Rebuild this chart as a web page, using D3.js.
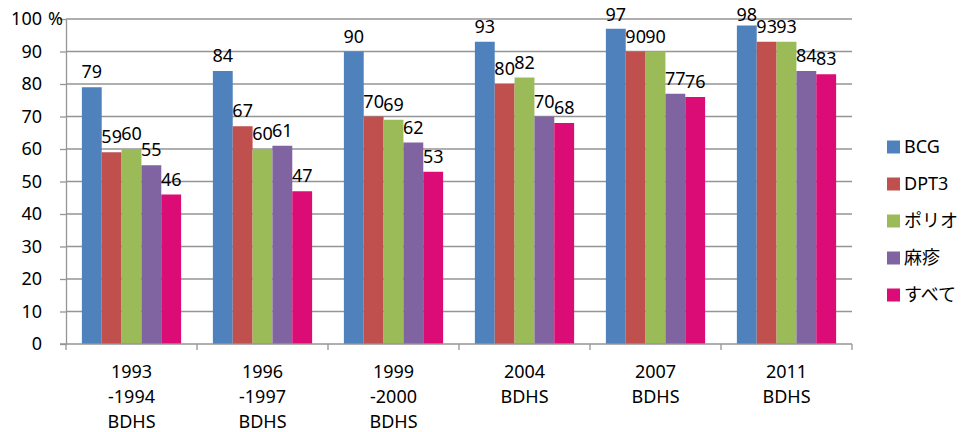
<!DOCTYPE html>
<html>
<head>
<meta charset="utf-8">
<script src="https://cdn.jsdelivr.net/npm/d3@7"></script>
<style>
  html, body { margin: 0; padding: 0; background: #fff; }
  svg text { font-family: "Noto Sans", "Noto Sans CJK JP", sans-serif; fill: #000; }
</style>
</head>
<body>
<svg id="chart" width="963" height="432"></svg>
<script>
// Survey rounds (x-axis categories), split into label lines
const categories = ["1993-1994 BDHS", "1996-1997 BDHS", "1999-2000 BDHS", "2004 BDHS", "2007 BDHS", "2011 BDHS"];
const categoryLines = [
  ["1993", "-1994", "BDHS"],
  ["1996", "-1997", "BDHS"],
  ["1999", "-2000", "BDHS"],
  ["2004", "BDHS"],
  ["2007", "BDHS"],
  ["2011", "BDHS"]
];

// Vaccination coverage (%) by vaccine
const seriesNames = ["BCG", "DPT3", "ポリオ", "麻疹", "すべて"];
const bcg     = [79, 84, 90, 93, 97, 98];
const dpt3    = [59, 67, 70, 80, 90, 93];
const polio   = [60, 60, 69, 82, 90, 93];
const measles = [55, 61, 62, 70, 77, 84];
const allVax  = [46, 47, 53, 68, 76, 83];
const seriesValues = [bcg, dpt3, polio, measles, allVax];
const seriesColors = ["#4f81bd", "#c0504d", "#9bbb59", "#8064a2", "#dc0c76"];

const yTicks = [0, 10, 20, 30, 40, 50, 60, 70, 80, 90, 100];

const svg = d3.select("#chart");
const plot = { left: 66, right: 852, top: 19, bottom: 344 };

const x0 = d3.scaleBand().domain(categories).range([plot.left, plot.right]).paddingInner(0).paddingOuter(0);
const x1 = d3.scaleBand().domain(seriesNames).range([0, x0.bandwidth()]).paddingInner(0).paddingOuter(0.8);
const y = d3.scaleLinear().domain([0, 100]).range([plot.bottom, plot.top]);

const gridColor = "#959595";

// Horizontal gridlines
svg.append("g")
  .selectAll("line")
  .data(yTicks.filter(t => t > 0))
  .join("line")
  .attr("x1", plot.left).attr("x2", plot.right)
  .attr("y1", d => y(d)).attr("y2", d => y(d))
  .attr("stroke", gridColor).attr("stroke-width", 1.3);

// Y axis
const yAxis = svg.append("g")
  .attr("transform", `translate(${plot.left},0)`)
  .call(d3.axisLeft(y).tickValues(yTicks).tickSize(6).tickSizeOuter(0).tickPadding(18));
yAxis.select(".domain").attr("stroke", gridColor).attr("stroke-width", 1.3);
yAxis.selectAll(".tick line").attr("stroke", gridColor).attr("stroke-width", 1.3);
yAxis.selectAll(".tick text")
  .style("font-family", "'Noto Sans', sans-serif")
  .style("font-size", "18px").attr("fill", "#000");

// Unit next to the top tick
svg.append("text")
  .attr("x", 48).attr("y", y(100)).attr("dy", "0.32em")
  .style("font-size", "18px").text("%");

// Bars
const groups = svg.append("g")
  .selectAll("g")
  .data(categories)
  .join("g")
  .attr("transform", d => `translate(${x0(d)},0)`);

groups.selectAll("rect")
  .data((c, ci) => seriesNames.map((s, si) => ({ s, v: seriesValues[si][ci], color: seriesColors[si] })))
  .join("rect")
  .attr("x", d => x1(d.s))
  .attr("y", d => y(d.v))
  .attr("width", x1.bandwidth())
  .attr("height", d => y(0) - y(d.v))
  .attr("fill", d => d.color);

// Value labels above bars (kept inside the top edge of the canvas)
groups.selectAll("text.value")
  .data((c, ci) => seriesNames.map((s, si) => ({ s, v: seriesValues[si][ci] })))
  .join("text")
  .attr("class", "value")
  .attr("x", d => x1(d.s) + x1.bandwidth() / 2)
  .attr("y", d => Math.max(y(d.v) - 9, 20.5))
  .attr("text-anchor", "middle")
  .style("font-size", "18px")
  .text(d => d.v);

// X axis baseline and boundary ticks
const xAxis = svg.append("g");
xAxis.append("line")
  .attr("x1", plot.left - 6).attr("x2", plot.right)
  .attr("y1", y(0)).attr("y2", y(0))
  .attr("stroke", gridColor).attr("stroke-width", 1.3);
const boundaries = categories.map(c => x0(c)).concat([x0(categories[categories.length - 1]) + x0.bandwidth()]);
xAxis.selectAll("line.bound")
  .data(boundaries)
  .join("line")
  .attr("class", "bound")
  .attr("x1", d => d).attr("x2", d => d)
  .attr("y1", y(0)).attr("y2", y(0) + 6)
  .attr("stroke", gridColor).attr("stroke-width", 1.3);

// Category labels (multi-line)
xAxis.selectAll("text.cat")
  .data(categories)
  .join("text")
  .attr("class", "cat")
  .attr("x", d => x0(d) + x0.bandwidth() / 2)
  .attr("y", 378)
  .attr("text-anchor", "middle")
  .style("font-size", "18px")
  .each(function (d, i) {
    const t = d3.select(this);
    categoryLines[i].forEach((line, li) => {
      t.append("tspan")
        .attr("x", x0(d) + x0.bandwidth() / 2)
        .attr("dy", li === 0 ? 0 : 25)
        .text(line);
    });
  });

// Legend
const legend = svg.append("g").attr("transform", "translate(887,147)");
const items = legend.selectAll("g")
  .data(seriesNames)
  .join("g")
  .attr("transform", (d, i) => `translate(0,${i * 37})`);
items.append("rect")
  .attr("x", 0).attr("y", -6.5)
  .attr("width", 13).attr("height", 13)
  .attr("fill", (d, i) => seriesColors[i]);
items.append("text")
  .attr("x", 17).attr("y", 0).attr("dy", "0.35em")
  .style("font-size", "18px")
  .text(d => d);
</script>
</body>
</html>
